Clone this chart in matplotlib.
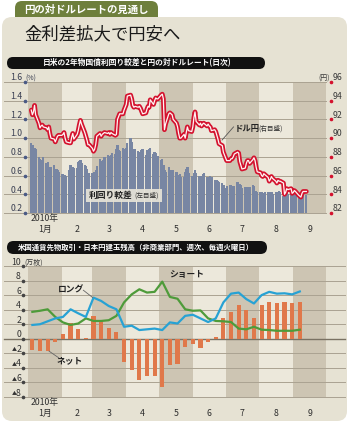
import matplotlib
matplotlib.use("Agg")
import matplotlib.pyplot as plt
from matplotlib.patches import FancyBboxPatch, Rectangle
import numpy as np
import pandas as pd

plt.rcParams['font.family'] = ['Noto Sans CJK JP', 'DejaVu Sans']

# ---------------- data ----------------
spread_dates = pd.bdate_range('2010-01-04', '2010-09-13')
spread = [
    0.95, 0.93, 0.87, 0.90, 0.88,  0.80, 0.78, 0.77, 0.77, 0.80,
    0.73, 0.75, 0.69, 0.68, 0.69,  0.71, 0.67, 0.67, 0.66, 0.64,
    0.62, 0.62, 0.61, 0.61, 0.60,  0.66, 0.71, 0.69, 0.69, 0.68,
    0.68, 0.75, 0.76, 0.77, 0.73,  0.71, 0.70, 0.67, 0.63, 0.63,
    0.63, 0.61, 0.64, 0.66, 0.70,  0.78, 0.76, 0.75, 0.77, 0.80,
    0.82, 0.81, 0.80, 0.82, 0.84,  0.83, 0.88, 0.93, 0.87, 0.86,
    0.89, 0.88, 0.85, 0.90, 0.95,  1.00, 0.96, 0.88, 0.87, 0.88,
    0.86, 0.85, 0.85, 0.87, 0.88,  0.82, 0.87, 0.86, 0.88, 0.90,
    0.83, 0.85, 0.84, 0.80, 0.81,  0.77, 0.78, 0.71, 0.66, 0.64,
    0.69, 0.66, 0.64, 0.66, 0.66,  0.64, 0.61, 0.60, 0.62, 0.58,
    0.58, 0.64, 0.67, 0.69, 0.63,  0.60, 0.58, 0.63, 0.66, 0.63,
    0.60, 0.60, 0.60, 0.62, 0.63,  0.59, 0.55, 0.58, 0.60, 0.58,
    0.55, 0.55, 0.55, 0.54, 0.53,  0.52, 0.50, 0.47, 0.47, 0.49,
    0.50, 0.50, 0.49, 0.49, 0.49,  0.53, 0.49, 0.51, 0.50, 0.47,
    0.48, 0.48, 0.48, 0.48, 0.48,  0.50, 0.49, 0.44, 0.43, 0.42,
    0.42, 0.42, 0.41, 0.40, 0.42,  0.42, 0.42, 0.41, 0.42, 0.40,
    0.42, 0.42, 0.42, 0.43, 0.42,  0.38, 0.39, 0.42, 0.41, 0.40,
    0.40, 0.40, 0.41, 0.41, 0.41,  0.39, 0.39, 0.39, 0.38, 0.39,
    0.39]
usdjpy = [
    93.0, 92.5, 92.8, 93.5, 92.5,  91.6, 91.1, 91.3, 91.4, 91.2,
    91.1, 90.9, 91.2, 90.5, 90.0,  89.9, 89.6, 89.9, 90.2, 90.3,
    90.3, 90.4, 90.6, 90.0, 89.6,  89.5, 89.5, 90.1, 90.5, 89.9,
    90.4, 90.8, 91.4, 91.9, 91.5,  90.6, 90.2, 89.8, 89.3, 89.3,
    88.9, 88.6, 88.8, 89.3, 90.2,  90.5, 90.2, 90.4, 90.5, 90.6,
    90.5, 90.6, 90.4, 90.6, 90.5,  90.3, 90.4, 92.0, 92.3, 92.6,
    92.6, 93.0, 93.3, 93.6, 94.5,  94.6, 94.2, 93.5, 93.3, 93.4,
    93.3, 93.4, 93.2, 92.9, 92.6,  92.7, 93.1, 93.4, 93.3, 94.1,
    93.6, 94.0, 94.3, 94.2, 94.2,  94.6, 94.7, 94.2, 90.9, 91.5,
    92.6, 92.7, 92.6, 92.5, 92.0,  91.6, 91.2, 90.5, 90.0, 90.0,
    90.4, 90.0, 90.6, 91.2, 90.8,  90.7, 91.2, 92.2, 92.8, 91.8,
    91.4, 91.6, 91.3, 91.5, 91.6,  91.3, 91.5, 91.3, 91.2, 90.8,
    90.9, 90.7, 90.3, 89.9, 89.4,  89.2, 88.5, 88.2, 87.9, 87.6,
    87.6, 87.8, 87.8, 88.0, 88.3,  88.5, 88.4, 87.5, 87.1, 86.7,
    86.8, 87.3, 87.6, 87.6, 87.3,  87.7, 87.9, 87.6, 86.9, 86.4,
    86.3, 86.0, 85.9, 86.2, 86.1,  85.8, 85.4, 85.6, 85.9, 85.7,
    85.4, 85.2, 85.5, 85.4, 85.4,  85.2, 84.0, 84.2, 84.6, 84.5,
    84.6, 84.1, 84.2, 84.4, 84.3,  83.9, 83.8, 83.7, 84.1, 84.3,
    84.3]

week_dates = pd.date_range('2010-01-05', '2010-09-07', freq='7D')
net_pos = [-1.6, -1.7, -1.7, -0.4, 0.65, 2.1, 1.4, 0.1, 3.15, 2.55, 1.45, 1.0,
           -3.15, -4.3, -5.65, -5.15, -5.05, -6.6, -3.55, -3.5, -1.1, -0.75, -1.3, -0.4,
           0.3, 2.8, 3.7, 4.65, 3.9, 2.85, 4.65, 5.1, 4.95, 5.0, 4.9, 5.1]
long_pos = [1.9, 2.0, 2.4, 2.8, 3.0, 4.05, 3.5, 3.0, 5.65, 5.2, 4.5, 4.05,
            1.65, 1.8, 1.2, 1.3, 1.4, 1.2, 2.25, 2.1, 3.15, 3.3, 2.8, 2.3,
            2.8, 5.0, 6.2, 6.35, 5.45, 4.85, 6.0, 6.45, 6.2, 6.25, 6.1, 6.5]
short_pos = [3.7, 3.85, 4.05, 3.0, 2.25, 1.9, 2.1, 2.8, 2.45, 2.45, 2.55, 3.15,
             5.0, 6.1, 6.8, 6.35, 6.45, 7.85, 5.75, 5.5, 4.05, 3.85, 3.9, 2.8,
             2.45, 2.4, 2.3, 1.4, 1.3, 1.65, 1.25, 1.2, 1.1, 1.1, 1.1, 1.25]

month_labels = ['1月', '2', '3', '4', '5', '6', '7', '8', '9']
year_label = '2010年'
left_ticks = [0.2, 0.4, 0.6, 0.8, 1.0, 1.2, 1.4, 1.6]
right_ticks = [82, 84, 86, 88, 90, 92, 94, 96]
pos_ticks = [-8, -6, -4, -2, 0, 2, 4, 6, 8, 10]

# ---------------- helpers ----------------
T0 = pd.Timestamp('2010-01-01')


def dnum(dates):
    return np.asarray((pd.DatetimeIndex(dates) - T0).days, dtype=float)


ms = dnum(pd.date_range('2010-01-01', '2010-10-01', freq='MS'))

PANEL = '#e6e2d3'
DARK = '#cdc5b3'
LIGHT = '#ece8db'
GRID = '#aaa291'
TXT = '#2e2e2e'
RED = '#d4122e'

W, H = 350, 425
fig = plt.figure(figsize=(W / 100, H / 100), dpi=100)
fig.patch.set_facecolor('white')

bg = fig.add_axes([0, 0, 1, 1])
bg.set_xlim(0, W)
bg.set_ylim(H, 0)
bg.axis('off')
bg.add_patch(FancyBboxPatch((15, 1), 143, 30, boxstyle='round,pad=0,rounding_size=7',
                            fc='#6e7f3c', ec='none'))
bg.add_patch(FancyBboxPatch((2, 17), 345, 404, boxstyle='round,pad=0,rounding_size=10',
                            fc=PANEL, ec='none'))
bg.text(86, 9.5, '円の対ドルレートの見通し', color='white', fontsize=7.5,
        fontweight='bold', ha='center', va='center')
bg.text(24, 34, '金利差拡大で円安へ', fontsize=12.5, ha='left', va='center', color='#1a1a1a')
bg.add_patch(FancyBboxPatch((7, 57), 258, 12, boxstyle='round,pad=0,rounding_size=6',
                            fc='#111111', ec='none'))
bg.text(137, 63, '日米の2年物国債利回り較差と円の対ドルレート(日次)', color='white',
        fontsize=5.6, fontweight='bold', ha='center', va='center')
bg.add_patch(FancyBboxPatch((7, 241), 260, 13, boxstyle='round,pad=0,rounding_size=6.5',
                            fc='#111111', ec='none'))
bg.text(136, 247.5, '米国通貨先物取引・日本円建玉残高（非商業部門、週次、毎週火曜日）',
        color='white', fontsize=5.3, fontweight='bold', ha='center', va='center')

PL, PW = 28, 298


def axfrac(px):
    return (px - PL) / PW


def month_bands(ax):
    for i in range(9):
        ax.axvspan(ms[i], ms[i + 1], color=DARK if i % 2 == 0 else LIGHT, lw=0, zorder=0)
    ax.set_xlim(ms[0], ms[-1])


def month_text(ax, plot_h):
    tr = ax.get_xaxis_transform()
    for i, lab in enumerate(month_labels):
        xc = (ms[i] + ms[i + 1]) / 2
        ax.text(xc, -16.5 / plot_h, lab, transform=tr, ha='center', va='center',
                fontsize=6.3, color=TXT)
    ax.text((ms[0] + ms[1]) / 2, -5.5 / plot_h, year_label, transform=tr, ha='center',
            va='center', fontsize=6.3, color=TXT)


def clean(ax):
    for s in ax.spines.values():
        s.set_visible(False)
    ax.set_xticks([])
    ax.set_yticks([])
    ax.patch.set_alpha(0)


# ---------------- top panel ----------------
ax1 = fig.add_axes([PL / W, 1 - 213 / H, PW / W, 131 / H])
clean(ax1)
month_bands(ax1)
ax1.set_ylim(0.2, 1.6)
for v in left_ticks:
    ax1.axhline(v, xmin=axfrac(4), xmax=1.0, color=GRID, lw=0.7, clip_on=False, zorder=1)
ax1.bar(dnum(spread_dates), np.array(spread) - 0.2, bottom=0.2, width=2.1,
        color='#7886a3', lw=0, zorder=2)
ytr = ax1.get_yaxis_transform()
for v in left_ticks:
    ax1.text(axfrac(22.5), v + 0.018, f'{v:.1f}', transform=ytr, ha='right', va='baseline',
             fontsize=6.3, color='#3a3f52')
ax1.plot([axfrac(24.5)] * len(left_ticks), left_ticks, 'o', ms=1.6, color='#4a5a85',
         transform=ytr, clip_on=False, zorder=5)
ax1.text(axfrac(25.5), 1.618, '(%)', transform=ytr, ha='left', va='baseline', fontsize=5,
         color='#3a3f52')
ax1.add_patch(Rectangle((53.5, 0.322), 69.5, 0.135, fc='#e7e3d8', ec='none', alpha=0.92,
                        zorder=3))
ax1.text(55.5, 0.385, '利回り較差', fontsize=6.3, fontweight='bold', color='#222',
         ha='left', va='center', zorder=4)
ax1.text(97.5, 0.385, '(左目盛)', fontsize=4.8, color='#333', ha='left', va='center',
         zorder=4)
month_text(ax1, 131)

ax1b = ax1.twinx()
clean(ax1b)
ax1b.set_ylim(82, 96)
ax1b.set_xlim(ms[0], ms[-1])
xs = dnum(spread_dates)
ax1b.plot(xs, usdjpy, color=RED, lw=3.4, solid_joinstyle='round', solid_capstyle='round',
          zorder=3)
ax1b.plot(xs, usdjpy, color='#fff4f4', lw=0.9, solid_joinstyle='round', zorder=4)
ytr2 = ax1b.get_yaxis_transform()
for v in right_ticks:
    ax1b.text(axfrac(333), v + 0.18, f'{v}', transform=ytr2, ha='left', va='baseline',
              fontsize=6.3, color='#3a3a3a')
ax1b.plot([axfrac(331)] * len(right_ticks), right_ticks, 'o', ms=1.6, color=RED,
          transform=ytr2, clip_on=False)
ax1b.text(axfrac(330), 96.18, '(円)', transform=ytr2, ha='right', va='baseline', fontsize=5,
          color='#3a3a3a')
ax1b.plot([188.3, 177.8], [91.2, 89.8], color='#555', lw=0.6, zorder=5)
ax1b.text(189.8, 91.05, 'ドル円', fontsize=6, fontweight='bold', color='#222',
          ha='left', va='center', zorder=6)
ax1b.text(211, 91.05, '(右目盛)', fontsize=4.8, color='#333', ha='left', va='center',
          zorder=6)

# ---------------- bottom panel ----------------
ax2 = fig.add_axes([PL / W, 1 - 397 / H, PW / W, 131 / H])
clean(ax2)
month_bands(ax2)
ax2.set_ylim(-8, 10)
for v in pos_ticks:
    if v == 0:
        continue
    ax2.axhline(v, xmin=axfrac(4), xmax=axfrac(345), color=GRID, lw=0.7, clip_on=False,
                zorder=1)
ax2.axhline(0, xmin=axfrac(4), xmax=axfrac(345), color='#7a7263', lw=1.0, clip_on=False,
            zorder=1.5)
wx = dnum(week_dates)
ax2.bar(wx, net_pos, width=3.8, color='#e0784a', lw=0, zorder=2)
ax2.plot(wx, short_pos, color='#4e9b3a', lw=1.6, zorder=3)
ax2.plot(wx, long_pos, color='#27a2d4', lw=1.6, zorder=4)
ytr3 = ax2.get_yaxis_transform()
for v in pos_ticks:
    ax2.text(axfrac(21), v + 0.2, f'{abs(v)}', transform=ytr3, ha='right', va='baseline',
             fontsize=6.3, color='#333')
    if v < 0:
        ax2.text(axfrac(17.2), v + 0.25, '▲', transform=ytr3, ha='right', va='baseline',
                 fontsize=3.6, color='#333')
ax2.plot([axfrac(22.8)] * len(pos_ticks), pos_ticks, 'o', ms=1.6, color='#444',
         transform=ytr3, clip_on=False)
ax2.text(axfrac(24), 10.2, '(万枚)', transform=ytr3, ha='left', va='baseline', fontsize=5,
         color='#333')
ax2.text(39.4, 6.65, 'ロング', fontsize=6.3, fontweight='bold', color='#222',
         ha='center', va='center', zorder=6)
ax2.plot([50.7, 59.3], [6.67, 5.66], color='#666', lw=0.6, zorder=5)
ax2.text(145.8, 8.9, 'ショート', fontsize=6.3, fontweight='bold', color='#222',
         ha='center', va='center', zorder=6)
ax2.text(38.5, -3.0, 'ネット', fontsize=6.3, fontweight='bold', color='#222',
         ha='center', va='center', zorder=6)
ax2.plot([28.0, 19.3], [-2.6, -1.7], color='#666', lw=0.6, zorder=5)
month_text(ax2, 131)

fig.savefig('out.png', dpi=100, facecolor='white')
